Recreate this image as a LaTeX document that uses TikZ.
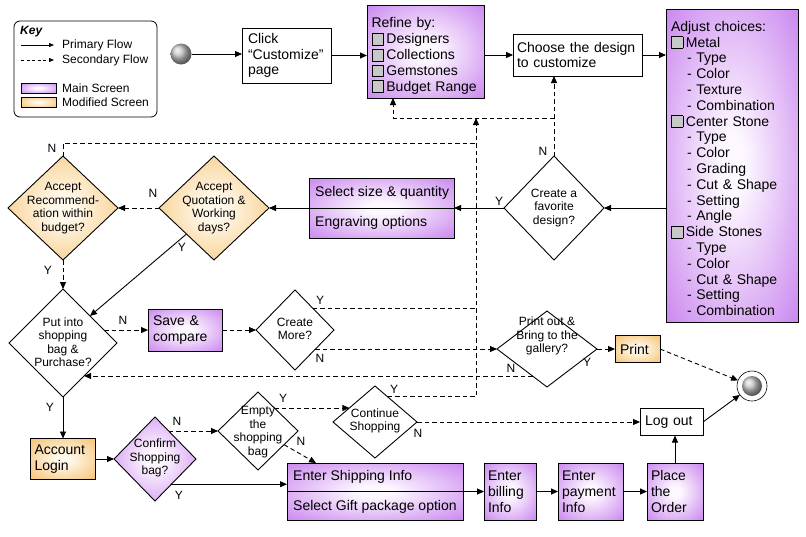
\documentclass[tikz,border=0pt]{standalone}
\usepackage{fontspec}
\setmainfont{Liberation Sans}
\usetikzlibrary{arrows.meta,shapes.geometric,calc}
\definecolor{mainout}{RGB}{200,130,238}
\definecolor{mainin}{RGB}{253,248,255}
\definecolor{modout}{RGB}{245,192,110}
\definecolor{modin}{RGB}{255,249,236}
\definecolor{boxgray}{RGB}{200,200,200}
\pgfdeclareradialshading{mainsh}{\pgfpoint{0bp}{0bp}}{color(0bp)=(mainin); color(5bp)=(mainin); color(37bp)=(mainout); color(50bp)=(mainout)}
\pgfdeclareradialshading{modsh}{\pgfpoint{0bp}{0bp}}{color(0bp)=(modin); color(5bp)=(modin); color(37bp)=(modout); color(50bp)=(modout)}
\newcommand\boxfont{\fontsize{14}{15.8}\selectfont}
\newcommand\dfont{\fontsize{12}{13.5}\selectfont}
\newcommand\labfont{\fontsize{12}{13}\selectfont}
\newcommand\keyfont{\fontsize{12}{14}\selectfont}
\newcommand\chk{{\setlength{\fboxsep}{0pt}\setlength{\fboxrule}{0.7pt}\raisebox{-1pt}{\fcolorbox{black}{boxgray}{\phantom{\rule{11pt}{11pt}}}}}\hspace{2.5pt}}
\newcommand\ind{\hspace*{16pt}}
\begin{document}
\begin{tikzpicture}[x=1pt, y=-1pt,
  pbox/.style={draw, rectangle, line width=0.9pt, inner sep=0pt, outer sep=0pt, font=\boxfont, align=left, fill=white},
  mainbox/.style={pbox, shading=mainsh},
  modbox/.style={pbox, shading=modsh},
  dmd/.style={draw, diamond, line width=0.9pt, inner sep=0pt, outer sep=0pt},
  wdmd/.style={dmd, fill=white},
  maindmd/.style={dmd, shading=mainsh},
  moddmd/.style={dmd, shading=modsh},
  dtxt/.style={font=\dfont, align=center, inner sep=0pt},
  prim/.style={line width=0.9pt, -{Triangle[length=7pt,width=6pt]}},
  secd/.style={prim, dash pattern=on 4.5pt off 3pt},
  secl/.style={line width=0.9pt, dash pattern=on 4.5pt off 3pt},
  ylab/.style={font=\labfont, inner sep=0pt},
  keytxt/.style={font=\keyfont, anchor=west, inner sep=0pt},
  ttxt/.style={font=\boxfont, anchor=west, inner sep=0pt},
]
\useasboundingbox (0,0) rectangle (806,536);
\fill[white] (0,0) rectangle (806,536);

% ---------- key ----------
\node[draw, rounded corners=6pt, line width=0.8pt, minimum width=143pt, minimum height=96pt, inner sep=0pt] (key) at (85.5,69) {};
\node[keytxt, font=\keyfont\bfseries\itshape] (keyT) at (20,32) {Key};
\coordinate (kp1) at (21,45); \coordinate (kp2) at (54,45);
\coordinate (ks1) at (21,60); \coordinate (ks2) at (54,60);
\draw[line width=0.7pt, -{Triangle[length=5pt,width=4pt]}] (kp1) -- (kp2);
\draw[line width=0.7pt, dash pattern=on 3pt off 2.5pt, -{Triangle[length=5pt,width=4pt]}] (ks1) -- (ks2);
\node[keytxt] (kpT) at (62,45) {Primary Flow};
\node[keytxt] (ksT) at (62,60) {Secondary Flow};
\node[mainbox, line width=0.7pt, minimum width=35pt, minimum height=10pt] (ksw1) at (38.5,88) {};
\node[modbox, line width=0.7pt, minimum width=35pt, minimum height=10pt] (ksw2) at (38.5,102) {};
\node[keytxt] (km1) at (62,88) {Main Screen};
\node[keytxt] (km2) at (62,102) {Modified Screen};

% ---------- start / end ----------
\node[circle, shading=ball, ball color=gray!45, minimum size=21pt, inner sep=0pt, outer sep=0pt] (start) at (181,54) {};
\node[circle, draw, fill=white, line width=0.6pt, minimum size=30pt, inner sep=0pt, outer sep=0pt] (endO) at (752,386) {};
\node[circle, shading=ball, ball color=gray!45, minimum size=20pt, inner sep=0pt] (endI) at (752,386) {};

% ---------- boxes ----------
\node[pbox, text width=77pt, inner xsep=6pt, minimum height=55pt] (click) at (286.5,55.5) {Click\\“Customize”\\page};
\node[mainbox, text width=108pt, inner xsep=4.5pt, minimum height=93pt] (refine) at (425.5,51.5)
  {\rule{0pt}{19pt}Refine by:\\\chk Designers\\\chk Collections\\\chk Gemstones\\\chk Budget Range};
\node[pbox, text width=121pt, inner xsep=4pt, minimum height=42pt] (choose) at (577.5,55) {Choose the design\\to customize};
\node[mainbox, text width=122pt, inner xsep=5pt, minimum height=313pt] (adjust) at (732,165.5)
  {\rule{0pt}{16pt}Adjust choices:\\\chk Metal\\\ind - Type\\\ind - Color\\\ind - Texture\\\ind - Combination\\
   \chk Center Stone\\\ind - Type\\\ind - Color\\\ind - Grading\\\ind - Cut \& Shape\\\ind - Setting\\\ind - Angle\\
   \chk Side Stones\\\ind - Type\\\ind - Color\\\ind - Cut \& Shape\\\ind - Setting\\\ind - Combination};

\node[mainbox, minimum width=145pt, minimum height=60pt] (sel) at (381.5,208) {};
\draw[line width=0.8pt] (sel.west) -- (sel.east);
\node[ttxt] (selT1) at (315,193) {Select size \& quantity};
\node[ttxt] (selT2) at (315,223) {Engraving options};

\node[mainbox, text width=64pt, inner xsep=5pt, minimum height=42pt] (save) at (185,330) {Save \&\\compare};
\node[modbox, text width=35pt, inner xsep=5pt, minimum height=27pt] (print) at (637.5,349) {Print};
\node[pbox, text width=53pt, inner xsep=5pt, minimum height=27pt] (logout) at (671.5,422) {Log out};
\node[modbox, text width=57pt, inner xsep=4pt, minimum height=41pt] (account) at (63,459) {Account\\Login};

\node[mainbox, minimum width=176pt, minimum height=57pt] (ship) at (375,491.5) {};
\draw[line width=0.8pt] (ship.west) -- (ship.east);
\node[ttxt] (shipT1) at (293,477) {Enter Shipping Info};
\node[ttxt] (shipT2) at (293,507) {Select Gift package option};
\node[mainbox, text width=44pt, inner xsep=4pt, minimum height=57pt] (bill) at (510,491.5) {Enter\\billing\\Info};
\node[mainbox, text width=57pt, inner xsep=4pt, minimum height=57pt] (pay) at (590.5,491.5) {Enter\\payment\\Info};
\node[mainbox, text width=48pt, inner xsep=4pt, minimum height=57pt] (place) at (675,491.5) {Place\\the\\Order};

% ---------- diamonds ----------
\node[moddmd, minimum width=110pt, minimum height=104pt] (rec) at (63,208) {};
\node[dtxt] (recT) at (rec) {Accept\\Recommend-\\ation within\\budget?};
\node[moddmd, minimum width=110pt, minimum height=104pt] (quote) at (214,208) {};
\node[dtxt] (quoteT) at (quote) {Accept\\Quotation \&\\Working\\days?};
\node[wdmd, minimum width=100pt, minimum height=104pt] (fav) at (554,208) {};
\node[dtxt] (favT) at (fav) {Create a\\favorite\\design?};
\node[wdmd, minimum width=108pt, minimum height=108pt] (put) at (63,343) {};
\node[dtxt] (putT) at (63,342) {Put into\\shopping\\bag \&\\Purchase?};
\node[wdmd, minimum width=78pt, minimum height=80pt] (more) at (295,330) {};
\node[dtxt] (moreT) at (295,329) {Create\\More?};
\node[wdmd, minimum width=100pt, minimum height=76pt] (printq) at (547,349) {};
\node[dtxt] (printqT) at (547,336) {Print out \&\\Bring to the\\gallery?};
\node[maindmd, minimum width=82pt, minimum height=84pt] (confirm) at (155,459) {};
\node[dtxt] (confirmT) at (155,458) {Confirm\\Shopping\\bag?};
\node[wdmd, minimum width=80pt, minimum height=78pt] (empty) at (258,431) {};
\node[dtxt] (emptyT) at (258,432) {Empty\\the\\shopping\\bag};
\node[wdmd, minimum width=84pt, minimum height=72pt] (cont) at (375,422) {};
\node[dtxt] (contT) at (375,421) {Continue\\Shopping};

% ---------- helper coordinates ----------
\coordinate (trunkTop) at (476,118);
\coordinate (t143) at (476,143);
\coordinate (j1) at ($(fav.north |- trunkTop)$);
\coordinate (rj) at ($(refine.south west)+(26,0)$);
\coordinate (p1) at ($(put.north)!0.76!(put.east)$);
\coordinate (p2) at ($(put.east)!0.61!(put.south)$);
\coordinate (m1) at ($(more.north)!0.45!(more.east)$);
\coordinate (m2) at ($(more.east)!0.475!(more.south)$);
\coordinate (pq1) at ($(printq.west)!0.71!(printq.south)$);
\coordinate (cf1) at ($(confirm.north)!0.333!(confirm.east)$);
\coordinate (cf2) at ($(confirm.east)!0.6!(confirm.south)$);
\coordinate (e1) at ($(empty.north)!0.41!(empty.east)$);
\coordinate (e2) at ($(empty.east)!0.35!(empty.south)$);
\coordinate (cw) at ($(cont.west)!0.39!(cont.north)$);
\coordinate (c1) at ($(cont.north)!0.3!(cont.east)$);
\coordinate (sj) at ($(ship.north west)+(29,0)$);

% ---------- primary connectors ----------
\draw[prim] (start) -- (start -| click.west);
\draw[prim] (click.east) -- (click.east -| refine.west);
\draw[prim] (choose.west -| refine.east) -- (choose.west);
\draw[prim] (choose.east) -- (choose.east -| adjust.west);
\draw[prim] (fav.east -| adjust.west) -- (fav.east);
\draw[prim] (fav.west) -- (sel.east);
\draw[prim] (sel.west) -- (quote.east);
\draw[prim] (quote.south west) -- (put.north east);
\draw[prim] (put.south) -- (put.south |- account.north);
\draw[prim] (account.east) -- (confirm.west);
\draw[prim] (cf2) -- (cf2 -| ship.west);
\draw[prim] (ship.east) -- (bill.west);
\draw[prim] (bill.east) -- (pay.west);
\draw[prim] (pay.east) -- (place.west);
\draw[prim] (place.north) -- (place.north |- logout.south);
\draw[prim] (logout.east) -- (endO);

% ---------- secondary connectors ----------
\draw[secd] (fav.north) -- (fav.north |- choose.south);
\draw[secd] (j1) -| (rj);
\draw[secd] (c1) -- (c1 -| trunkTop) -- (trunkTop);
\draw[secl] (rec.north) |- (t143);
\draw[secl] (m1) -- (m1 -| trunkTop);
\draw[secd] (quote.west) -- (rec.east);
\draw[secd] (rec.south) -- (put.north);
\draw[secd] (p1) -- (p1 -| save.west);
\draw[secd] (save.east) -- (more.west);
\draw[secd] (m2) -- (m2 -| printq.west);
\draw[secd] (pq1) -- (pq1 -| p2);
\draw[secd] (printq.east) -- (print.west);
\draw[secd] (print.east) -- (endO);
\draw[secd] (cf1) -- (cf1 -| empty.west);
\draw[secd] (e1) -- (e1 -| cw);
\draw[secd] (e2) -- (sj);
\draw[secd] (cont.east) -- (cont.east -| logout.west);

% ---------- Y / N labels ----------
\node[ylab] (lRecN) at (52,148) {N};
\node[ylab] (lRecY) at (48,270) {Y};
\node[ylab] (lQuoN) at (153,193) {N};
\node[ylab] (lQuoY) at (182,247) {Y};
\node[ylab] (lFavN) at (543,151) {N};
\node[ylab] (lFavY) at (499,201) {Y};
\node[ylab] (lPutN) at (123,320) {N};
\node[ylab] (lPutY) at (50,407) {Y};
\node[ylab] (lMoreY) at (320,300) {Y};
\node[ylab] (lMoreN) at (320,358) {N};
\node[ylab] (lPqN) at (511,368) {N};
\node[ylab] (lPqY) at (587,362) {Y};
\node[ylab] (lCfN) at (177,421) {N};
\node[ylab] (lCfY) at (179,495) {Y};
\node[ylab] (lEmY) at (283,398) {Y};
\node[ylab] (lEmN) at (301,441) {N};
\node[ylab] (lCoY) at (394,389) {Y};
\node[ylab] (lCoN) at (418,433) {N};
\end{tikzpicture}
\end{document}
